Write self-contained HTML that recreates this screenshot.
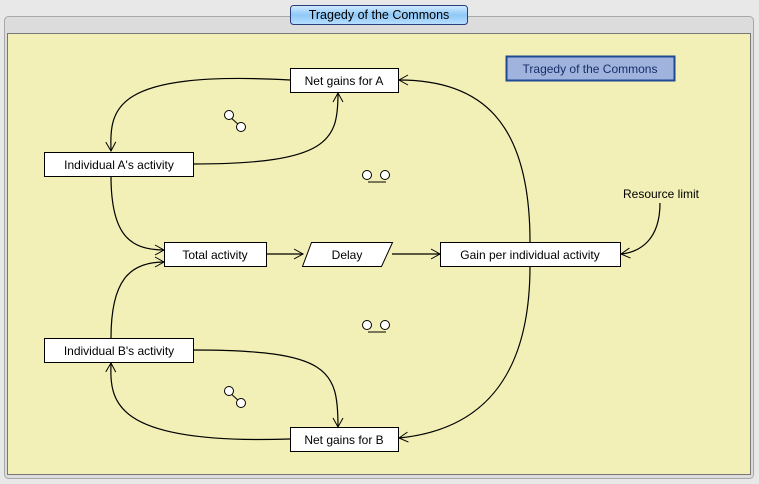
<!DOCTYPE html>
<html><head><style>
body{margin:0;width:759px;height:484px;background:#e8e8e8;overflow:hidden;font-family:"Liberation Sans",sans-serif;}
svg{display:block;}
</style></head><body>
<svg width="759" height="484" xmlns="http://www.w3.org/2000/svg" font-family="Liberation Sans, sans-serif">
<defs>
<linearGradient id="tg" x1="0" y1="0" x2="0" y2="1"><stop offset="0" stop-color="#d4ecff"/><stop offset="0.5" stop-color="#8fc8f7"/><stop offset="1" stop-color="#b9e0ff"/></linearGradient>
<marker id="a" markerWidth="12" markerHeight="12" refX="10" refY="6" orient="auto" markerUnits="userSpaceOnUse"><path d="M1,1 L10,6 L1,11" fill="none" stroke="#000" stroke-width="1"/></marker>
</defs>
<rect x="4.5" y="16.5" width="749" height="462" rx="4" fill="#dcdcdc" stroke="#a8a8a8"/>
<rect x="7.5" y="33.5" width="743" height="441" fill="#f2f0b6" stroke="#777"/>
<rect x="290.5" y="5.5" width="177" height="19" rx="3" fill="url(#tg)" stroke="#2a3f7a"/>
<text x="379" y="19" font-size="12.5" text-anchor="middle">Tragedy of the Commons</text>
<rect x="506.5" y="56.5" width="168" height="24" fill="#9fb3dc" stroke="#1e4a94" stroke-width="2"/>
<text x="590" y="73" font-size="12" text-anchor="middle" fill="#1a2f6a">Tragedy of the Commons</text>
<g fill="none" stroke="#000" stroke-width="1.2">
<path d="M290,80 C110,70 110,110 111,151" marker-end="url(#a)"/>
<path d="M193,164 C330,164 338,140 338,93" marker-end="url(#a)"/>
<path d="M111,176 C111,235 130,250 164,250" marker-end="url(#a)"/>
<path d="M111,338 C111,280 130,262 164,262" marker-end="url(#a)"/>
<path d="M266,254 L303,254" marker-end="url(#a)"/>
<path d="M392,254 L440,254" marker-end="url(#a)"/>
<path d="M530,242 C530,120 480,80 399,80" marker-end="url(#a)"/>
<path d="M530,266 C530,380 480,430 399,438" marker-end="url(#a)"/>
<path d="M660,203 C660,240 640,252 621,254" marker-end="url(#a)"/>
<path d="M193,350 C330,350 338,370 338,427" marker-end="url(#a)"/>
<path d="M290,439 C110,445 110,400 111,363" marker-end="url(#a)"/>
</g>
<g fill="#fff" stroke="#000" stroke-width="1">
<rect x="290.5" y="68.5" width="108" height="24"/>
<rect x="44.5" y="152.5" width="149" height="24"/>
<rect x="164.5" y="242.5" width="102" height="24"/>
<path d="M311.5,242.5 L392.5,242.5 L381.5,266.5 L302.5,266.5 Z"/>
<rect x="440.5" y="242.5" width="180" height="24"/>
<rect x="44.5" y="338.5" width="149" height="24"/>
<rect x="290.5" y="427.5" width="108" height="24"/>
</g>
<g font-size="12" text-anchor="middle">
<text x="344" y="85">Net gains for A</text>
<text x="119" y="169">Individual A's activity</text>
<text x="215" y="259">Total activity</text>
<text x="347" y="259">Delay</text>
<text x="530" y="259">Gain per individual activity</text>
<text x="119" y="355">Individual B's activity</text>
<text x="344" y="444">Net gains for B</text>
<text x="661" y="198">Resource limit</text>
</g>
<g fill="#fff" stroke="#000" stroke-width="1">
<line x1="229" y1="116" x2="240" y2="126"/>
<circle cx="229" cy="115" r="4.5"/><circle cx="241" cy="127" r="4.5"/>
<line x1="229" y1="392" x2="240" y2="402"/>
<circle cx="229" cy="391" r="4.5"/><circle cx="241" cy="403" r="4.5"/>
<circle cx="367" cy="175" r="4.5"/><circle cx="385" cy="175" r="4.5"/><line x1="368" y1="182" x2="386" y2="182"/>
<circle cx="367" cy="325" r="4.5"/><circle cx="385" cy="325" r="4.5"/><line x1="368" y1="332" x2="386" y2="332"/>
</g>
</svg>
</body></html>
